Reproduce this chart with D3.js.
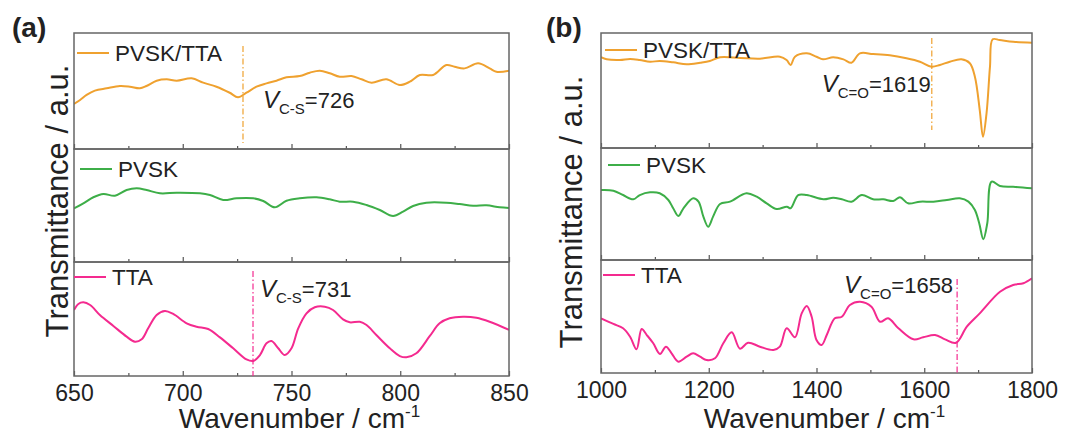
<!DOCTYPE html>
<html><head><meta charset="utf-8">
<script src="https://cdn.jsdelivr.net/npm/d3@7"></script>
<style>
body{margin:0;background:#fff}
text{font-family:"Liberation Sans",Arial,Helvetica,sans-serif;fill:#222}
</style>
</head><body>
<svg id="chart" width="1088" height="434"></svg>
<script>
// ---------------- DATA ----------------
const seriesNames = ["PVSK/TTA", "PVSK", "TTA"];
const seriesColors = ["#EFA12F", "#3DAE48", "#F42A8F"];

const ticksA = [650, 700, 750, 800, 850];
const minorTicksA = [675, 725, 775, 825];
const ticksB = [1000, 1200, 1400, 1600, 1800];
const minorTicksB = [1100, 1300, 1500, 1700];

// Panel (a): 650-850 cm-1, arbitrary transmittance 0..100 per strip
const aCompWave = [650,652.8,655.8,659.6,665,671.1,675.7,680.3,683.3,688,692.6,697.2,704.1,709.4,715.5,721.6,725.4,729.3,733.9,738.5,743.1,747.7,753.8,758.4,763,767.6,772.2,777.6,782.2,786.8,793.6,799.8,804.4,809,815.1,821.2,825,829.6,835.8,841.1,844.2,850];
const aCompVal  = [38.8,42.2,46.6,50.3,52.3,54.3,53.7,52.3,54.3,58.9,60.1,58.9,60.9,57.2,53.7,48.5,44.6,48.5,53.7,56.6,58.9,61.8,62.9,65.8,67.5,65.3,62.3,62.9,60.1,57.2,60.1,55.2,58.0,63.8,63.8,72.4,70.9,69.5,73.9,69.5,66.6,67.5];

const aPvskWave = [650,654.3,658.9,663.5,668.8,674.2,678.8,683.4,689.5,697.2,707.9,712.5,718.6,724.7,732.4,737,742.3,747.7,753.8,761.5,767.6,772.2,778.3,784.5,790.6,796.7,801.3,805.9,812,821.2,827.3,833.5,839.6,845.7,850];
const aPvskVal  = [47.5,51.9,57.3,60.2,58.7,63.7,65.2,63.7,60.8,61.3,60.8,59.3,54.9,56.4,56.4,54.0,48.4,54.2,56.4,57.3,55.5,53.4,53.4,50.4,46.0,40.7,44.5,49.6,52.5,52.5,51.3,49.8,50.2,48.4,47.8];

const aTtaWave = [650,652,654.3,657.4,661.9,668.1,674.2,678,681.1,684.1,688,691.8,695.6,701.8,706.4,711.7,717.1,723.2,729.3,732.4,735.5,738.5,740.8,743.9,746.9,750,753.1,756.9,760.7,765.3,769.1,773.7,776.8,781.4,784.5,789,795.2,799.8,802.8,807.4,813.6,818.1,822.7,828.9,835,841.1,850];
const aTtaVal  = [57.9,63.2,64.6,62.3,53.5,43.9,34.5,30.1,32.2,41.8,53.5,57.0,54.4,46.2,43.2,41.2,33.9,24.3,14.6,13.2,18.4,28.7,30.7,24.3,18.4,24.3,41.8,55.0,60.3,60.8,57.9,49.7,47.1,47.6,44.7,36.0,24.3,17.5,16.4,19.9,35.1,46.2,50.6,52.0,51.1,47.6,40.4];

// Panel (b): 1000-1800 cm-1
const bCompWave = [1000,1010.5,1035,1054,1072,1091,1109,1134,1159,1184,1202,1221,1258,1295,1332,1344.5,1352,1360,1382,1400,1412,1431,1450,1465,1480.5,1505,1536,1567,1592,1613.5,1629,1647.5,1669,1684.6,1694,1703,1709,1715.6,1722,1727,1740,1765,1800];
const bCompVal  = [78.9,77.1,76.5,77.4,76.5,75.0,75.7,74.5,72.8,74.2,75.7,78.9,78.3,77.7,79.4,76.5,72.2,79.4,82.3,79.4,77.1,78.9,77.1,74.2,82.3,81.7,80.6,78.0,75.0,70.7,72.2,75.0,77.1,73.7,62.0,33.0,9.8,30.2,70.7,94.5,93.9,92.4,91.6];

const bPvskWave = [1000,1023,1041,1060,1072,1091,1109,1125,1134,1143.5,1153,1171,1181,1190,1199,1208,1221,1239.5,1270,1289,1307.5,1326,1345,1352,1366,1382,1413,1431,1447,1465,1484,1505,1524,1542.5,1555,1570,1592,1617,1642,1666,1682,1694,1702,1709.6,1717,1725,1740.6,1765,1800];
const bPvskVal  = [62.5,61.9,58.0,54.2,58.0,60.4,59.6,53.6,46.2,39.3,46.2,55.1,52.1,38.7,29.7,38.7,50.0,52.1,59.6,56.5,50.6,45.5,47.6,46.2,58.0,58.0,54.2,55.6,54.2,52.1,58.0,54.2,54.2,52.7,56.0,50.6,52.1,52.1,53.6,55.1,52.1,44.6,32.8,18.5,32.8,69.9,66.1,65.4,64.0];

const bTtaWave = [1000,1023,1041,1054,1066,1075.5,1085,1097,1109.5,1120.6,1131,1143.5,1159,1171,1184,1196,1211.6,1227,1242.6,1258,1273,1295,1320,1332,1344.7,1360,1372.5,1382,1391,1400,1409.6,1419,1434,1447,1462,1481,1502,1518,1533,1552,1580,1598,1620,1638.5,1659,1679,1703,1740.6,1765,1784,1800];
const bTtaVal  = [48.4,43.4,39.6,32.1,21.0,38.9,33.6,26.3,16.8,23.3,17.4,10.0,14.4,17.4,14.4,11.5,13.0,26.3,36.0,21.5,26.8,23.3,20.4,23.3,39.6,31.6,52.8,59.3,49.8,29.2,24.8,33.6,48.4,49.8,60.2,63.1,58.7,45.4,48.4,39.6,29.8,31.6,33.6,29.8,26.8,41.0,52.8,71.9,77.9,79.4,83.8];

// annotation markers
const markers = [
  {panel: 0, strip: 0, wave: 727.7, sub: "C-S", num: "726"},
  {panel: 0, strip: 2, wave: 732.3, sub: "C-S", num: "731"},
  {panel: 1, strip: 0, wave: 1614, sub: "C=O", num: "1619"},
  {panel: 1, strip: 2, wave: 1661, sub: "C=O", num: "1658"}
];

// ---------------- LAYOUT ----------------
const svg = d3.select("#chart");
const panels = [
  {tag: "(a)", tagX: 12, left: 74, right: 509, bounds: [33, 149, 262, 376],
   domain: [650, 850], ticks: ticksA, minor: minorTicksA,
   curves: [[aCompWave, aCompVal], [aPvskWave, aPvskVal], [aTtaWave, aTtaVal]],
   legendX: [77, 80, 74], legendDy: [20, 20, 15], ylabX: 68, ylabY: 201},
  {tag: "(b)", tagX: 546, left: 601, right: 1032, bounds: [33, 148, 260, 373],
   domain: [1000, 1800], ticks: ticksB, minor: minorTicksB,
   curves: [[bCompWave, bCompVal], [bPvskWave, bPvskVal], [bTtaWave, bTtaVal]],
   legendX: [605, 608, 603], legendDy: [17, 17, 15], ylabX: 582, ylabY: 212}
];

const annotLayout = [
  {top: 13, bot: 6, dx: 20, dy: 75, anchor: "start"},
  {top: 9, bot: 0, dx: 7, dy: 35, anchor: "start"},
  {top: 5, bot: 18, dx: -1, dy: 59, anchor: "end"},
  {top: 19, bot: 0, dx: -4, dy: 33, anchor: "end"}
];

panels.forEach((p, pi) => {
  const x = d3.scaleLinear().domain(p.domain).range([p.left, p.right]);
  const g = svg.append("g");

  g.append("text").attr("x", p.tagX).attr("y", 37)
    .attr("font-size", 28).attr("font-weight", "bold").text(p.tag);

  for (let s = 0; s < 3; s++) {
    const top = p.bounds[s], bot = p.bounds[s + 1];
    const y = d3.scaleLinear().domain([0, 100]).range([bot, top]);

    const cid = `clip${pi}${s}`;
    svg.append("clipPath").attr("id", cid).append("rect")
      .attr("x", p.left).attr("y", top).attr("width", p.right - p.left).attr("height", bot - top);

    const [wx, wy] = p.curves[s];
    const pts = wx.map((w, i) => [w, wy[i]]);
    const line = d3.line().x(d => x(d[0])).y(d => y(d[1])).curve(d3.curveCatmullRom.alpha(0.5));
    g.append("path").attr("d", line(pts)).attr("fill", "none")
      .attr("stroke", seriesColors[s]).attr("stroke-width", 2).attr("clip-path", `url(#${cid})`);

    const isBottom = s === 2;
    const axMaj = d3.axisBottom(x).tickValues(p.ticks).tickSizeInner(-5).tickSizeOuter(0)
      .tickPadding(9).tickFormat(isBottom ? d3.format("d") : "");
    const axMin = d3.axisBottom(x).tickValues(p.minor).tickSizeInner(-3).tickSizeOuter(0).tickFormat("");
    const ga = g.append("g").attr("transform", `translate(0,${bot})`).call(axMaj);
    g.append("g").attr("transform", `translate(0,${bot})`).call(axMin).select(".domain").remove();
    ga.select(".domain").remove();
    g.selectAll(".tick line").attr("stroke", "#555").attr("stroke-width", 1.2);
    ga.selectAll(".tick text").attr("font-size", 23).attr("fill", "#222")
      .attr("font-family", '"Liberation Sans",Arial,sans-serif');

    g.append("rect").attr("x", p.left).attr("y", top).attr("width", p.right - p.left)
      .attr("height", bot - top).attr("fill", "none").attr("stroke", "#666").attr("stroke-width", 1.5);

    const lx = p.legendX[s], ly = top + p.legendDy[s];
    g.append("line").attr("x1", lx).attr("x2", lx + 32).attr("y1", ly).attr("y2", ly)
      .attr("stroke", seriesColors[s]).attr("stroke-width", 2);
    g.append("text").attr("x", lx + 38).attr("y", ly + 7.5).attr("font-size", 22.5)
      .text(seriesNames[s]);
  }

  g.append("text").attr("transform", `translate(${p.ylabX},${p.ylabY}) rotate(-90)`)
    .attr("text-anchor", "middle").attr("font-size", 31).text("Transmittance / a.u.");

  const xl = g.append("text").attr("x", (p.left + p.right) / 2 + 8).attr("y", 428)
    .attr("text-anchor", "middle").attr("font-size", 28);
  xl.append("tspan").text("Wavenumber / cm");
  xl.append("tspan").attr("font-size", 17).attr("dy", -11).text("-1");

  markers.forEach((m, mi) => {
    if (m.panel !== pi) return;
    const L = annotLayout[mi];
    const top = p.bounds[m.strip], bot = p.bounds[m.strip + 1];
    const mx = x(m.wave);
    g.append("line").attr("x1", mx).attr("x2", mx).attr("y1", top + L.top).attr("y2", bot - L.bot)
      .attr("stroke", seriesColors[m.strip]).attr("stroke-width", 1.2)
      .attr("stroke-dasharray", "6,2.5,1.5,2.5");
    const t = g.append("text").attr("x", mx + L.dx).attr("y", top + L.dy)
      .attr("font-size", 22).attr("text-anchor", L.anchor);
    t.append("tspan").attr("font-style", "italic").attr("font-size", 24).text("V");
    t.append("tspan").attr("font-size", 15).attr("dy", 6).text(m.sub);
    t.append("tspan").attr("dy", -6).text("=" + m.num);
  });
});
</script>
</body></html>
